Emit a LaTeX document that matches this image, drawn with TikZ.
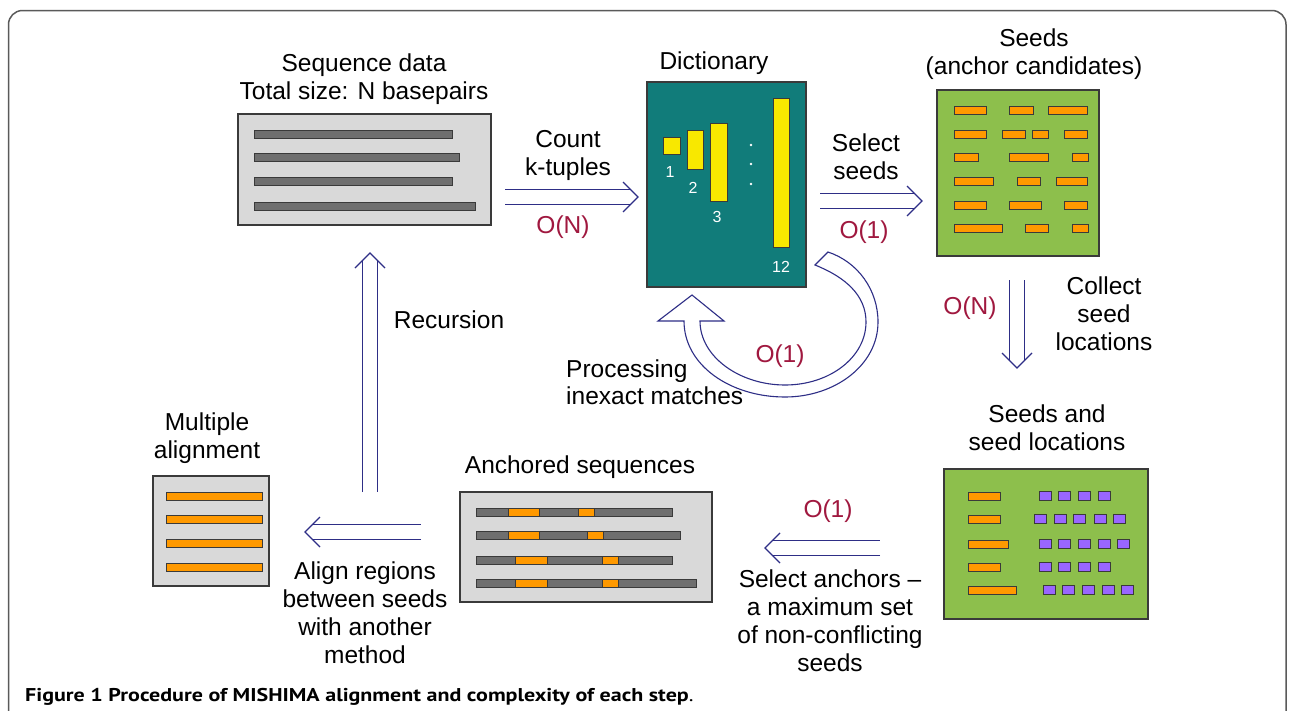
\documentclass[tikz,border=0pt]{standalone}
\usepackage{fontspec}
\setmainfont{Liberation Sans}
\newfontfamily\capfont{PT Sans}
\usetikzlibrary{calc}
\definecolor{navy}{HTML}{2E2E86}
\definecolor{cred}{HTML}{A0183F}
\definecolor{boxgray}{HTML}{D9D9D9}
\definecolor{bargray}{HTML}{6F6F6F}
\definecolor{edge}{HTML}{3A3A3A}
\definecolor{teal}{HTML}{117C7A}
\definecolor{yel}{HTML}{F8E800}
\definecolor{orng}{HTML}{FF9900}
\definecolor{grn}{HTML}{8DBF4C}
\definecolor{purp}{HTML}{9966FF}
\definecolor{framecol}{HTML}{5A5A5A}
\tikzset{
  lbl/.style={font=\fontsize{24.5}{28}\selectfont, align=center, inner sep=0pt},
  cplx/.style={lbl, text=cred},
  panel/.style={draw=edge, line width=1.5pt, inner sep=0pt},
  barbox/.style={draw=edge, line width=0.9pt},
  shaft/.style={draw=navy, line width=1.2pt, double=white, double distance=14.5pt},
  tipline/.style={draw=navy, line width=1.2pt},
}
\newcommand\mybar[4]{\draw[barbox, fill=#4] (#1,#3-4) rectangle (#2,#3+4);}
\newcommand\mysq[2]{\draw[barbox, fill=purp] (#1,#2-4.5) rectangle (#1+12,#2+4.5);}
\newcommand\dblarrow[2]{%
  \draw[shaft] (#1) -- ($(#2)!7.5pt!(#1)$);
  \coordinate (dbC) at ($(#2)!15pt!(#1)$);
  \draw[tipline] ($(dbC)!15pt!90:(#2)$) -- (#2) -- ($(dbC)!15pt!-90:(#2)$);
}
\begin{document}
\begin{tikzpicture}[x=1pt,y=-1pt]
\useasboundingbox (0,0) rectangle (1290,710);
\fill[white] (0,0) rectangle (1290,710);
% frame
\draw[framecol, line width=1.5pt, rounded corners=14pt] (8.5,10.5) rectangle (1286,760);

% panels
\node[panel, fill=boxgray, minimum width=253pt, minimum height=111pt] (seq) at (364.5,169.5) {};
\node[panel, fill=teal, minimum width=159pt, minimum height=205pt] (dict) at (726.5,184.5) {};
\node[panel, fill=grn, minimum width=162pt, minimum height=166pt] (seeds) at (1018,173) {};
\node[panel, fill=grn, minimum width=204pt, minimum height=150pt] (loc) at (1046,544) {};
\node[panel, fill=boxgray, minimum width=252pt, minimum height=110pt] (anch) at (586,547) {};
\node[panel, fill=boxgray, minimum width=116pt, minimum height=110pt] (multi) at (211,531) {};

% sequence bars
\mybar{254}{452}{134.5}{bargray}
\mybar{254}{459}{157.5}{bargray}
\mybar{254}{452}{181}{bargray}
\mybar{254}{475}{206}{bargray}

% dictionary
\draw[barbox, fill=yel] (663,137) rectangle (680,154);
\draw[barbox, fill=yel] (687,130) rectangle (703,169);
\draw[barbox, fill=yel] (710,123) rectangle (727,201);
\draw[barbox, fill=yel] (773,98) rectangle (789,247);
\foreach \yy in {145,164,184} {\fill[white] (751,\yy) circle (1.3pt);}
\tikzset{dl/.style={text=white, font=\fontsize{16}{18}\selectfont, inner sep=0pt}}
\node[dl] (d1) at (670,172) {1};
\node[dl] (d2) at (693,188) {2};
\node[dl] (d3) at (717,217) {3};
\node[dl] (d12) at (781,267) {12};

% seeds
\mybar{954}{986}{110}{orng}\mybar{1009}{1033}{110}{orng}\mybar{1048}{1087}{110}{orng}
\mybar{954}{986}{134}{orng}\mybar{1002}{1025}{134}{orng}\mybar{1032}{1048}{134}{orng}\mybar{1064}{1087}{134}{orng}
\mybar{954}{978}{157}{orng}\mybar{1009}{1048}{157}{orng}\mybar{1072}{1088}{157}{orng}
\mybar{954}{993}{181}{orng}\mybar{1017}{1040}{181}{orng}\mybar{1056}{1087}{181}{orng}
\mybar{954}{986}{205}{orng}\mybar{1009}{1041}{205}{orng}\mybar{1064}{1087}{205}{orng}
\mybar{954}{1002}{228}{orng}\mybar{1025}{1048}{228}{orng}\mybar{1072}{1088}{228}{orng}

% seeds and locations
\mybar{968}{1000}{496}{orng}
\mybar{968}{1000}{519}{orng}
\mybar{968}{1008}{544}{orng}
\mybar{968}{1000}{567}{orng}
\mybar{968}{1016}{590}{orng}
\foreach \xx in {1039,1058,1078,1098} {\mysq{\xx}{496}}
\foreach \xx in {1034,1054,1073,1094,1113} {\mysq{\xx}{519}}
\foreach \xx in {1039,1058,1078,1098,1117} {\mysq{\xx}{544}}
\foreach \xx in {1039,1058,1078,1098} {\mysq{\xx}{567}}
\foreach \xx in {1043,1062,1082,1102,1121} {\mysq{\xx}{590}}

% anchored sequences
\mybar{476}{672}{512}{bargray}\mybar{508}{539}{512}{orng}\mybar{578}{594}{512}{orng}
\mybar{476}{680}{535}{bargray}\mybar{508}{539}{535}{orng}\mybar{587}{603}{535}{orng}
\mybar{476}{672}{560}{bargray}\mybar{515}{547}{560}{orng}\mybar{602}{618}{560}{orng}
\mybar{476}{696}{583}{bargray}\mybar{515}{547}{583}{orng}\mybar{602}{618}{583}{orng}

% multiple alignment
\foreach \yy in {496,519,543,567} {\mybar{166}{262}{\yy}{orng}}

% arrows
\coordinate (a1) at (505,197);  \coordinate (a2) at (638,197);
\coordinate (b1) at (820,201);  \coordinate (b2) at (922,201);
\coordinate (c1) at (1017,280); \coordinate (c2) at (1017,368);
\coordinate (e1) at (880,548);  \coordinate (e2) at (765,548);
\coordinate (f1) at (421,532);  \coordinate (f2) at (305,532);
\coordinate (g1) at (370,492);  \coordinate (g2) at (370,253);
\dblarrow{a1}{a2}
\dblarrow{b1}{b2}
\dblarrow{c1}{c2}
\dblarrow{e1}{e2}
\dblarrow{f1}{f2}
\dblarrow{g1}{g2}

% curved arrow
\draw[navy, line width=1.1pt, fill=white, line join=miter]
  (828,252) .. controls (858,262) and (878,290) .. (878,322)
  .. controls (878,365) and (835,397) .. (785,397)
  .. controls (730,397) and (684,365) .. (684,321)
  -- (658,321) -- (692,295) -- (724,321) -- (700,321)
  .. controls (700,357) and (740,385) .. (785,385)
  .. controls (830,385) and (866,357) .. (866,322)
  .. controls (866,295) and (845,277) .. (815,265) -- cycle;

% labels
\node[lbl] (tseq) at (364,79) {Sequence data\\Total size: N basepairs};
\node[lbl] (tdict) at (714,63) {Dictionary};
\node[lbl] (tseeds) at (1034,54) {Seeds\\(anchor candidates)};
\node[lbl] (tcount) at (568,155) {Count\\k-tuples};
\node[cplx] (c1l) at (563,227) {O(N)};
\node[lbl] (tsel) at (866,157) {Select\\seeds};
\node[cplx] (c2l) at (864,232) {O(1)};
\node[lbl] (tcoll) at (1104,314) {Collect\\seed\\locations};
\node[cplx] (c3l) at (970,308) {O(N)};
\node[lbl] (tloc) at (1047,428) {Seeds and\\seed locations};
\node[cplx] (c4l) at (828,511) {O(1)};
\node[lbl] (tanc) at (830,621) {Select anchors --\\a maximum set\\of non-conflicting\\seeds};
\node[lbl] (tanch) at (580,467) {Anchored sequences};
\node[lbl] (tmulti) at (207,438) {Multiple\\alignment};
\node[lbl] (talign) at (365,613) {Align regions\\between seeds\\with another\\method};
\node[lbl] (trec) at (449,320) {Recursion};
\node[lbl, align=left, anchor=west, font=\fontsize{24.5}{26.5}\selectfont] (tproc) at (566,382) {Processing\\inexact matches};
\node[cplx] (c5l) at (780,356) {O(1)};

% caption
\node[anchor=west, inner sep=0pt, font=\capfont\fontsize{18.5}{20}\selectfont] (cap) at (25,697) {\scalebox{1.19}[1]{\textbf{Figure 1 Procedure of MISHIMA alignment and complexity of each step}.}};
\end{tikzpicture}
\end{document}
